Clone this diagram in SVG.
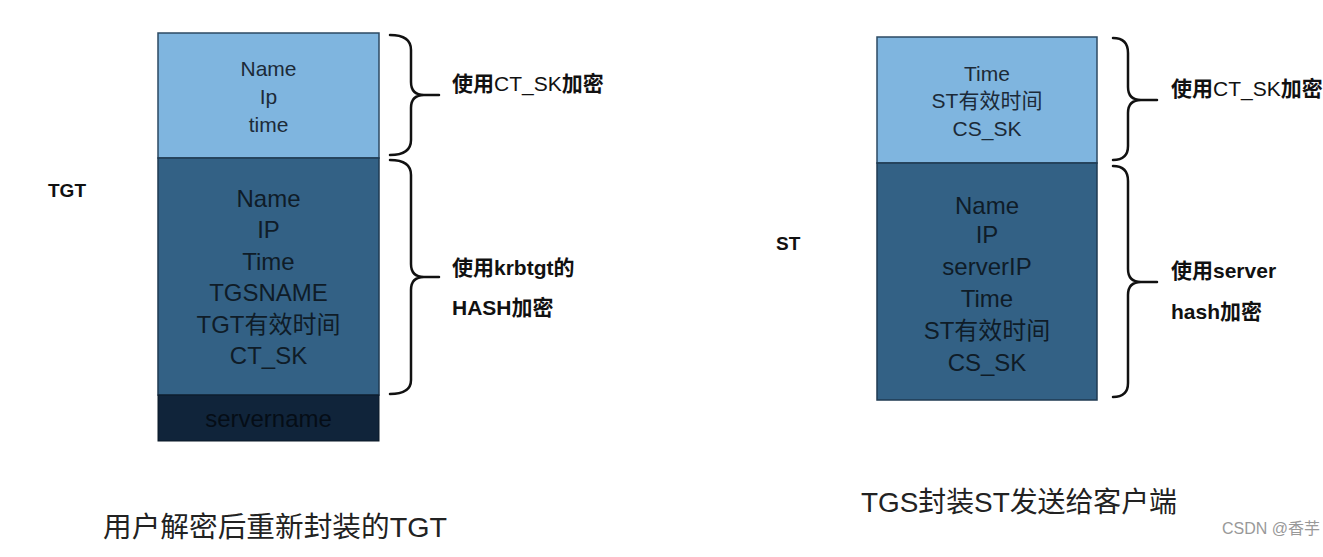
<svg xmlns="http://www.w3.org/2000/svg" width="1323" height="557" viewBox="0 0 1323 557">
<style>
text{font-family:"Liberation Sans","Noto Sans CJK SC",sans-serif;}
.light{fill:#7fb5df;stroke:#2c4a63;stroke-width:1.5;}
.dark{fill:#336185;stroke:#1f3a52;stroke-width:1.5;}
.deep{fill:#10243a;stroke:#0a1826;stroke-width:1;}
.t1{font-size:21px;fill:#1c2a38;text-anchor:middle;}
.t2{font-size:24px;fill:#0f1c28;text-anchor:middle;}
.lbl{font-size:21px;font-weight:bold;fill:#111;}
.nb{font-weight:normal;}
.cap{font-size:28px;fill:#222;}
.brace{fill:none;stroke:#111;stroke-width:2.5;stroke-linecap:round;}
</style>
<rect width="1323" height="557" fill="#fff"/>
<g id="tgt-top">
<rect class="light" x="158" y="33" width="221" height="125"/>
<text class="t1" x="268.5" y="76">Name</text>
<text class="t1" x="268.5" y="104">Ip</text>
<text class="t1" x="268.5" y="132">time</text>
</g>
<g id="tgt-body">
<rect class="dark" x="158" y="158" width="221" height="237"/>
<text class="t2" x="268.5" y="207">Name</text>
<text class="t2" x="268.5" y="238">IP</text>
<text class="t2" x="268.5" y="270">Time</text>
<text class="t2" x="268.5" y="301">TGSNAME</text>
<text class="t2" x="268.5" y="333">TGT有效时间</text>
<text class="t2" x="268.5" y="364">CT_SK</text>
</g>
<g id="tgt-servername">
<rect class="deep" x="158" y="395" width="221" height="46"/>
<text class="t2" x="268.5" y="427" style="fill:#050d16">servername</text>
</g>
<g id="st-top">
<rect class="light" x="877" y="37" width="220" height="126"/>
<text class="t1" x="987" y="81">Time</text>
<text class="t1" x="987" y="108">ST有效时间</text>
<text class="t1" x="987" y="136">CS_SK</text>
</g>
<g id="st-body">
<rect class="dark" x="877" y="163" width="220" height="237"/>
<text class="t2" x="987" y="214">Name</text>
<text class="t2" x="987" y="243">IP</text>
<text class="t2" x="987" y="275">serverIP</text>
<text class="t2" x="987" y="307">Time</text>
<text class="t2" x="987" y="339">ST有效时间</text>
<text class="t2" x="987" y="371">CS_SK</text>
</g>
<g id="connectors">
<path class="brace" d="M390 35 Q411 35 411 50 L411 82 Q411 95 424 95 L439 95 M424 95 Q411 95 411 108 L411 140 Q411 155 390 155"/>
<path class="brace" d="M390 160 Q411 160 411 175 L411 264 Q411 277 424 277 L439 277 M424 277 Q411 277 411 290 L411 380 Q411 394 390 394"/>
<path class="brace" d="M1113 38 Q1128 38 1128 53 L1128 87 Q1128 100 1141 100 L1157 100 M1141 100 Q1128 100 1128 113 L1128 146 Q1128 160 1113 160"/>
<path class="brace" d="M1113 166 Q1128 166 1128 181 L1128 269 Q1128 282 1141 282 L1157 282 M1141 282 Q1128 282 1128 295 L1128 383 Q1128 397 1113 397"/>
</g>
<g id="labels">
<text class="lbl" x="452" y="91">使用<tspan class="nb">CT_SK</tspan>加密</text>
<text class="lbl" x="452" y="275">使用krbtgt的</text>
<text class="lbl" x="452" y="315">HASH加密</text>
<text class="lbl" x="1171" y="96">使用<tspan class="nb">CT_SK</tspan>加密</text>
<text class="lbl" x="1171" y="278">使用server</text>
<text class="lbl" x="1171" y="319">hash加密</text>
<text class="lbl" x="48" y="197" style="font-size:19px">TGT</text>
<text class="lbl" x="776" y="250" style="font-size:19px">ST</text>
<text class="cap" x="103" y="537" textLength="344" lengthAdjust="spacingAndGlyphs">用户解密后重新封装的TGT</text>
<text class="cap" x="861" y="512" textLength="316" lengthAdjust="spacingAndGlyphs">TGS封装ST发送给客户端</text>
<text x="1222" y="534" style="font-size:16px;fill:#999">CSDN @香芋</text>
</g>
</svg>
